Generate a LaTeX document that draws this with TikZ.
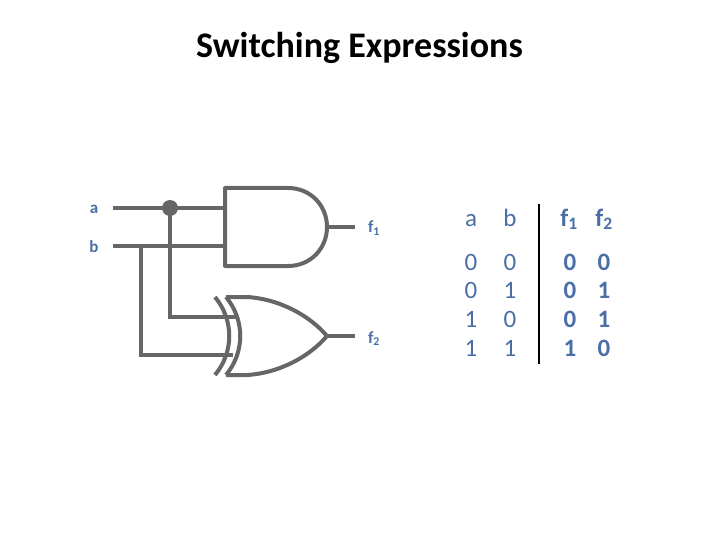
\documentclass[tikz,border=0pt]{standalone}
\usepackage{fontspec}
\setmainfont{Carlito}
\definecolor{wiregray}{HTML}{666666}
\definecolor{labelblue}{HTML}{4A6EA5}
\tikzset{
    wire/.style={draw=wiregray, line width=4pt},
    gate/.style={draw=wiregray, line width=4pt, line join=round},
    pinlabel/.style={text=labelblue, anchor=base, font=\bfseries\fontsize{17}{17}\selectfont, inner sep=0pt},
    tabcell/.style={text=labelblue, anchor=base, font=\fontsize{25}{25}\selectfont, inner sep=0pt},
    tabbold/.style={tabcell, font=\bfseries\fontsize{25}{25}\selectfont},
}
\begin{document}
\begin{tikzpicture}[x=1pt,y=-1pt]
    \useasboundingbox (0,0) rectangle (720,540);
    \node [inner sep=0pt, font=\fontsize{36}{36}\selectfont\bfseries] (title) at (359.5,48) {Switching Expressions};

    % pins
    \node [pinlabel] (a) at (94,214) {a};
    \node [pinlabel] (b) at (94,252) {b};
    \node [pinlabel] (f1) at (374,233) {f\textsubscript{1}};
    \node [pinlabel] (f2) at (374,343) {f\textsubscript{2}};

    \coordinate (astart) at (113,208);
    \coordinate (bstart) at (113,246);
    \coordinate (aend) at (225,208);
    \coordinate (bend) at (225,246);
    \coordinate (andout) at (327,227);
    \coordinate (xorout) at (327,336);
    \coordinate (f1end) at (355,227);
    \coordinate (f2end) at (355,336);
    \coordinate (abranch) at (170,208);
    \coordinate (bbranch) at (141,246);
    \coordinate (xora) at (236,317);
    \coordinate (xorb) at (233,355);

    % gates
    \draw [gate] (225,188) -- (288,188) .. controls (311,188) and (327,206) .. (andout)
        .. controls (327,248) and (311,266) .. (288,266) -- (225,266) -- cycle;
    \draw [gate] (226,297) -- (247,297) .. controls (280,299) and (310,316) .. (xorout)
        .. controls (310,356) and (280,373) .. (247,375) -- (226,375);
    \draw [gate] (226,297) .. controls (245,320) and (245,352) .. (226,375);
    \draw [gate] (215,297) .. controls (234,320) and (234,352) .. (215,375);

    % wires
    \draw [wire] (astart) -- (aend);
    \draw [wire] (bstart) -- (bend);
    \draw [wire] (abranch) |- (xora);
    \draw [wire] (bbranch) |- (xorb);
    \draw [wire] (andout) -- (f1end);
    \draw [wire] (xorout) -- (f2end);
    \node [circle, fill=wiregray, minimum size=16pt, inner sep=0pt] (dot) at (abranch) {};

    % table
    \node [tabcell] (heada) at (471,226) {a};
    \node [tabcell] (headb) at (510,226) {b};
    \node [tabbold] (headf1) at (569,226) {f\textsubscript{1}};
    \node [tabbold] (headf2) at (604,226) {f\textsubscript{2}};
    \foreach \y/\va/\vb/\vc/\vd in {270/0/0/0/0, 298.5/0/1/0/1, 327.5/1/0/0/1, 356/1/1/1/0} {
        \node [tabcell] (a\y) at (471,\y) {\va};
        \node [tabcell] (b\y) at (510,\y) {\vb};
        \node [tabbold] (c\y) at (570,\y) {\vc};
        \node [tabbold] (d\y) at (604,\y) {\vd};
    }
    \coordinate (ruletop) at (539,204);
    \coordinate (rulebot) at (539,364);
    \draw [line width=1.8pt] (ruletop) -- (rulebot);
\end{tikzpicture}
\end{document}
